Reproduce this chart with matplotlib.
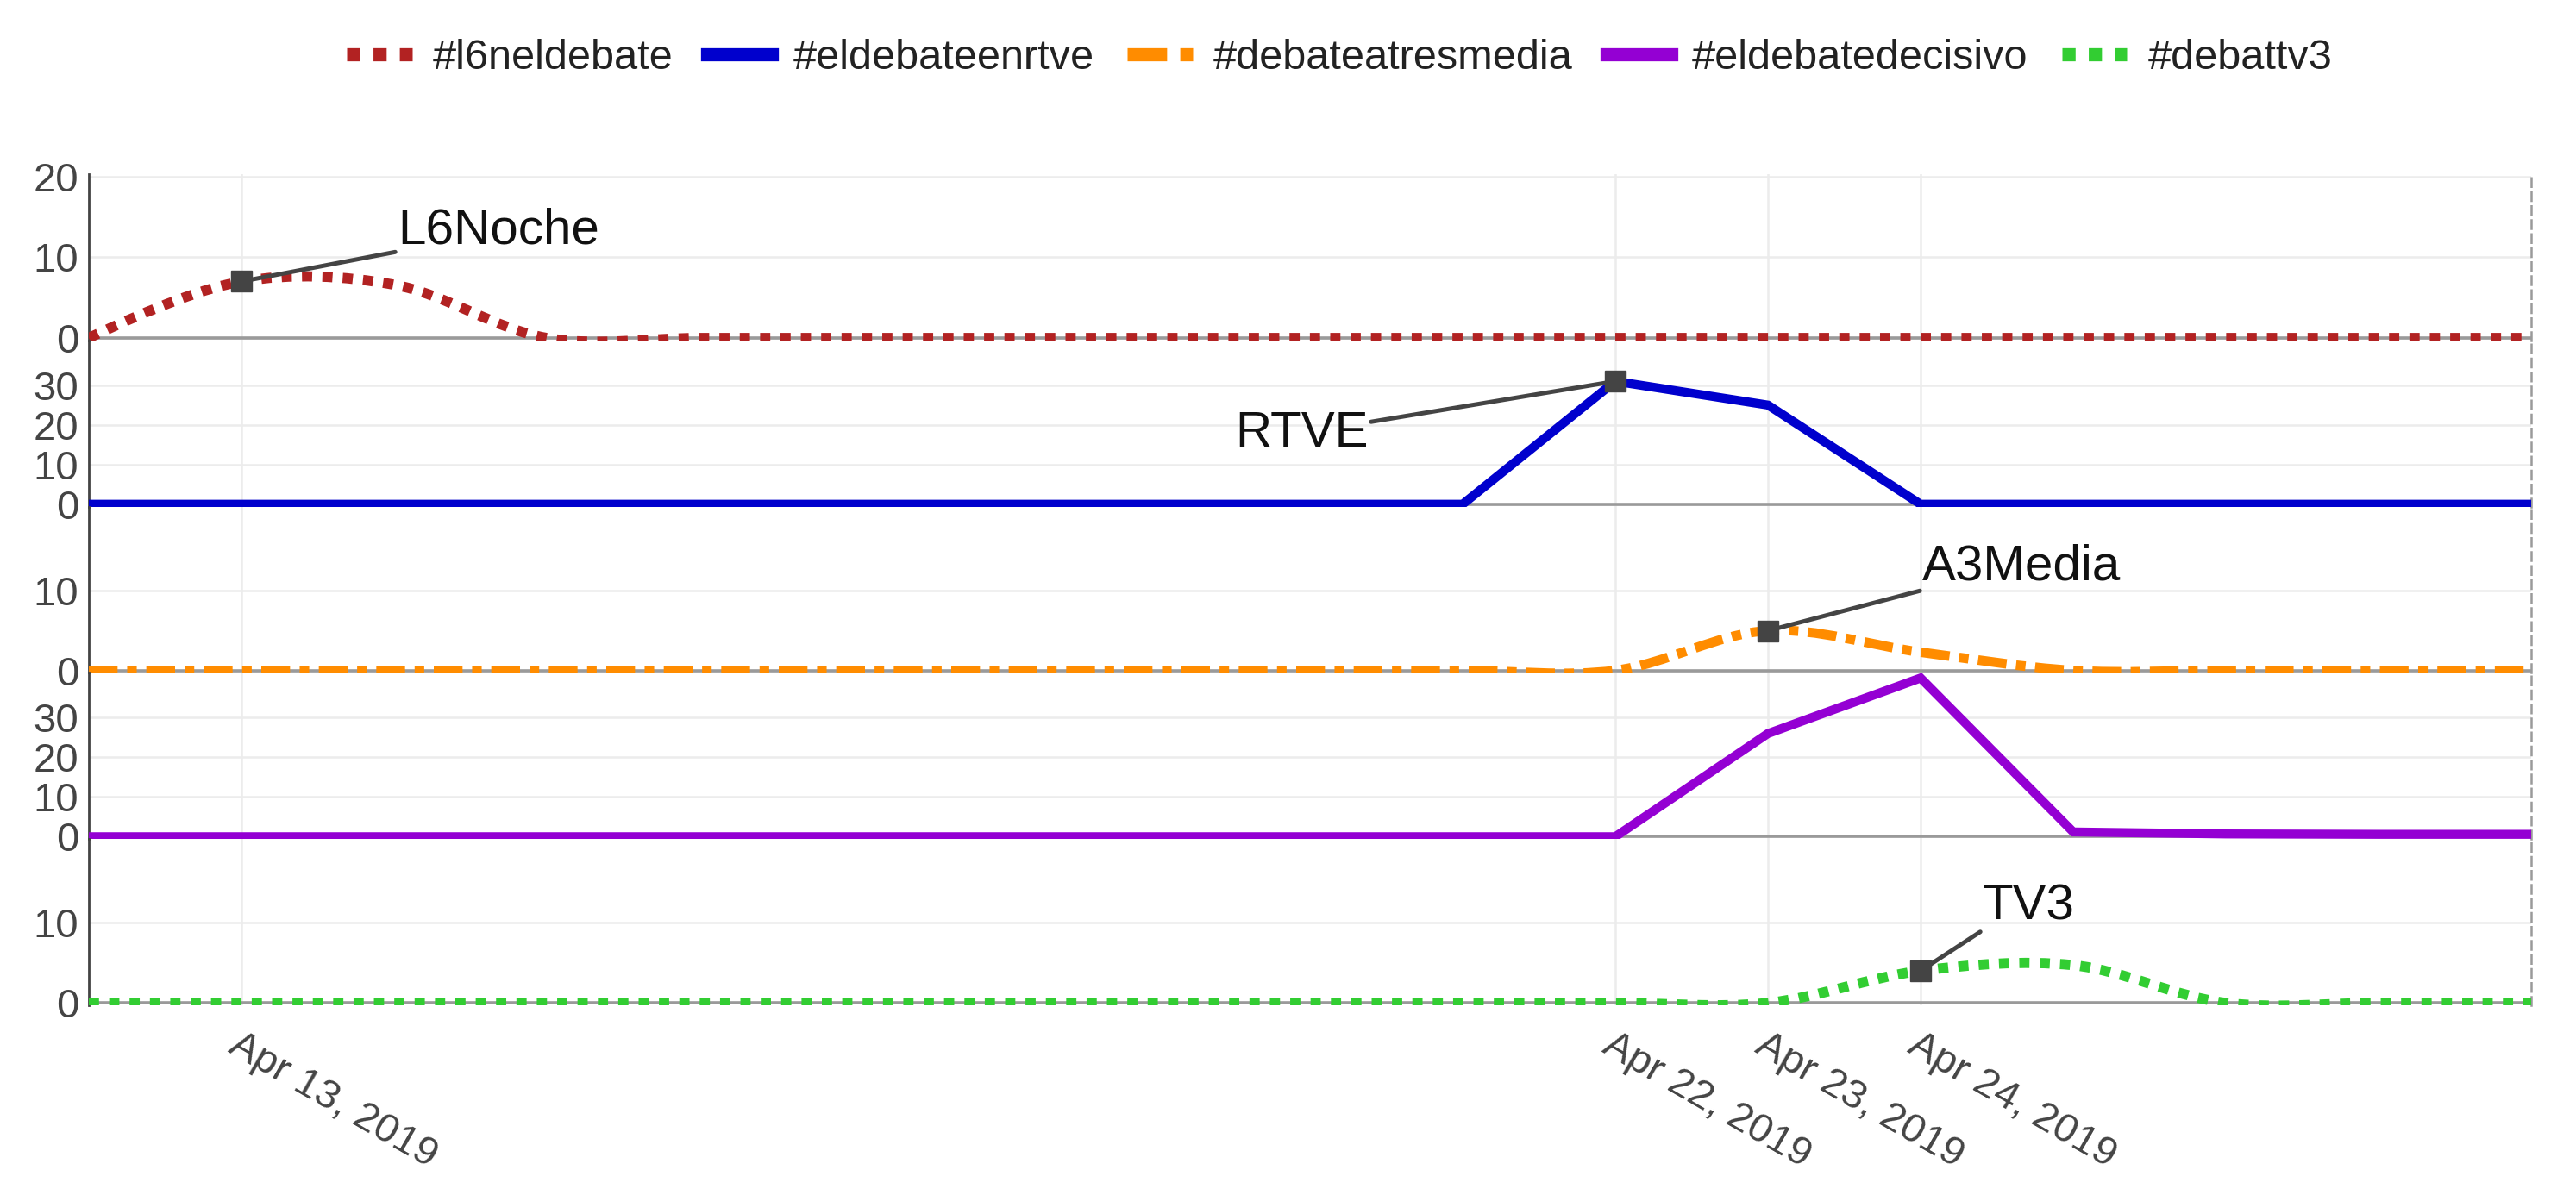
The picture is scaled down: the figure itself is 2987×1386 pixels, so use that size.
import numpy as np
import matplotlib
matplotlib.use("Agg")
import matplotlib.pyplot as plt
import matplotlib.dates as mdates
from matplotlib.path import Path
from matplotlib.patches import PathPatch
from matplotlib.lines import Line2D

plt.rcParams['font.family'] = ['Liberation Sans', 'DejaVu Sans']

# ---------------- data ----------------
dates = ["2019-04-12", "2019-04-13", "2019-04-14", "2019-04-15", "2019-04-16",
         "2019-04-17", "2019-04-18", "2019-04-19", "2019-04-20", "2019-04-21",
         "2019-04-22", "2019-04-23", "2019-04-24", "2019-04-25", "2019-04-26",
         "2019-04-27", "2019-04-28"]

series_names = ["#l6neldebate", "#eldebateenrtve", "#debateatresmedia",
                "#eldebatedecisivo", "#debattv3"]
l6neldebate = [0, 7, 6.6, 0, 0, 0, 0, 0, 0, 0, 0, 0, 0, 0, 0, 0, 0]
eldebateenrtve = [0, 0, 0, 0, 0, 0, 0, 0, 0, 0, 31, 25, 0, 0, 0, 0, 0]
debateatresmedia = [0, 0, 0, 0, 0, 0, 0, 0, 0, 0, 0, 5, 2.3, 0, 0, 0, 0]
eldebatedecisivo = [0, 0, 0, 0, 0, 0, 0, 0, 0, 0, 0, 26, 40, 1.2, 0.7, 0.6, 0.6]
debattv3 = [0, 0, 0, 0, 0, 0, 0, 0, 0, 0, 0, 0, 4, 4.7, 0, 0, 0]

annot_labels = ["L6Noche", "RTVE", "A3Media", "TV3"]
annot_dates = ["2019-04-13", "2019-04-22", "2019-04-23", "2019-04-24"]
annot_values = [7, 31, 5, 4]
annot_panel = [0, 1, 2, 4]

tick_dates = ["2019-04-13", "2019-04-22", "2019-04-23", "2019-04-24"]
tick_labels = ["Apr 13, 2019", "Apr 22, 2019", "Apr 23, 2019", "Apr 24, 2019"]

# ---------------- styles ----------------
colors = ["#B22222", "#0000CD", "#FF8C00", "#9400D3", "#32CD32"]
dashes = [(0, (1, 1)), "solid", (0, (3, 1, 1, 1)), "solid", (0, (1, 1))]
widths = [8.5, 7.5, 8.0, 7.5, 8.5]
smooth = [True, False, True, False, True]
ylims = [(-0.3, 20.3), (-0.6, 41.3), (-0.3, 20.6), (-0.6, 41.3), (-0.3, 20.4)]
yticks = [[0, 10, 20], [0, 10, 20, 30], [0, 10], [0, 10, 20, 30], [0, 10]]
annot_offsets = [(181, 59), (-286, -61), (179, 74), (72, 74)]
annot_ha = ["left", "right", "left", "left"]
annot_relpos = [(0, 0.05), (1, 0.75), (0, 0.0), (0, 0.0)]

W, H = 2987, 1386
fig = plt.figure(figsize=(W / 100, H / 100), dpi=100)

left_px, right_px = 103, 2935
top_px, bot_px = 202, 1166
ph = (bot_px - top_px) / 5

x = mdates.datestr2num(dates)
all_series = [l6neldebate, eldebateenrtve, debateatresmedia, eldebatedecisivo, debattv3]
xt = mdates.datestr2num(tick_dates)


def plotly_spline(ax, xs, ys, smoothness=1.0):
    pts = ax.transData.transform(np.column_stack([xs, ys]))
    n = len(pts)
    tangents = []
    for i in range(1, n - 1):
        prev, this, nxt = pts[i - 1], pts[i], pts[i + 1]
        d1x, d1y = prev - this
        d2x, d2y = nxt - this
        d1a = (d1x ** 2 + d1y ** 2) ** 0.25
        d2a = (d2x ** 2 + d2y ** 2) ** 0.25
        numx = (d2a ** 2 * d1x - d1a ** 2 * d2x) * smoothness
        numy = (d2a ** 2 * d1y - d1a ** 2 * d2y) * smoothness
        denom1 = 3 * d2a * (d1a + d2a)
        denom2 = 3 * d1a * (d1a + d2a)
        t0 = this + (np.array([numx, numy]) / denom1 if denom1 else 0)
        t1 = this - (np.array([numx, numy]) / denom2 if denom2 else 0)
        tangents.append((t0, t1))
    verts = [pts[0], tangents[0][0], pts[1]]
    codes = [Path.MOVETO, Path.CURVE3, Path.CURVE3]
    for i in range(1, n - 2):
        verts += [tangents[i - 1][1], tangents[i][0], pts[i + 1]]
        codes += [Path.CURVE4] * 3
    verts += [tangents[-1][1], pts[-1]]
    codes += [Path.CURVE3] * 2
    inv = ax.transData.inverted()
    return Path(inv.transform(np.array(verts)), codes)


axes = []
for i in range(5):
    y0 = 1 - (top_px + (i + 1) * ph) / H
    ax = fig.add_axes([left_px / W, y0, (right_px - left_px) / W, ph / H])
    ax.set_facecolor("none")
    ax.set_xlim(x[0], x[-1])
    ax.set_ylim(*ylims[i])
    ax.set_yticks(yticks[i])
    ax.set_xticks(xt)
    ax.grid(True, color="#ececec", lw=1.8, zorder=0)
    ax.set_axisbelow(True)
    ax.axhline(0, color="#9a9a9a", lw=2.6, zorder=1.5)
    for s in ["top", "bottom"]:
        ax.spines[s].set_visible(False)
    ax.spines["left"].set_color("#444444")
    ax.spines["left"].set_linewidth(2.0)
    ax.spines["right"].set_color("#9a9a9a")
    ax.spines["right"].set_linewidth(1.8)
    ax.spines["right"].set_linestyle((0, (4, 2.5)))
    ax.tick_params(axis="y", length=0, pad=8.5, labelsize=34, labelcolor="#444444")
    ax.tick_params(axis="x", length=0)
    if i < 4:
        ax.tick_params(axis="x", labelbottom=False)
    else:
        ax.set_xticklabels(tick_labels, rotation=-30, ha="left", va="top",
                           rotation_mode="anchor")
        ax.tick_params(axis="x", pad=17, labelsize=34, labelcolor="#444444")
    ys = all_series[i]
    if smooth[i]:
        path = plotly_spline(ax, x, ys)
        patch = PathPatch(path, fill=False, edgecolor=colors[i], lw=widths[i],
                          linestyle=dashes[i], capstyle="butt", joinstyle="round",
                          zorder=3)
        ax.add_patch(patch)
    else:
        ax.plot(x, ys, color=colors[i], lw=widths[i], linestyle=dashes[i],
                solid_joinstyle="miter", zorder=3)
    axes.append(ax)

for lab, d, v, p, off, ha, rp in zip(annot_labels, annot_dates, annot_values,
                                      annot_panel, annot_offsets, annot_ha, annot_relpos):
    ax = axes[p]
    xd = mdates.datestr2num(d)
    ax.annotate(lab, xy=(xd, v), xytext=off, textcoords="offset pixels",
                ha=ha, va="center", fontsize=42, color="#111111",
                arrowprops=dict(arrowstyle="-", color="#444444", lw=3.6,
                                shrinkA=0, shrinkB=0, relpos=rp),
                annotation_clip=False, zorder=10)
    ax.plot([xd], [v], marker="s", color="#444444", ms=17, zorder=11,
            linestyle="none", clip_on=False)

handles = [Line2D([0], [0], color=c, lw=11, linestyle=ls, dash_capstyle="butt")
           for c, ls in zip(colors, dashes)]
fig.legend(handles, series_names, loc="center", bbox_to_anchor=(0.52, 0.951),
           ncol=5, frameon=False, fontsize=35, handlelength=1.55,
           handletextpad=0.5, columnspacing=0.8, labelcolor="#222222")

fig.savefig("out.png", dpi=100)
